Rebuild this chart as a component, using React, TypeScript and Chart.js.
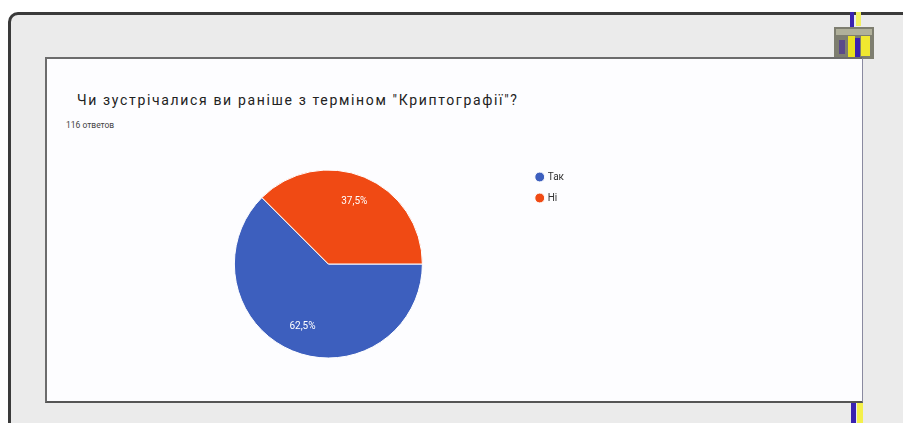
import React, { useEffect, useRef } from "react";
import { Chart, registerables } from "chart.js";

Chart.register(...registerables);

const titleText = "Чи зустрічалися ви раніше з терміном \"Криптографії\"?";
const subtitleText = "116 ответов";
const categories = ["Так", "Ні"];
const sliceValues = [62.5, 37.5];
const sliceColors = ["#3d5fbe", "#f04a14"];

const sliceLabelPlugin = {
  id: "sliceLabels",
  afterDatasetsDraw(chart: any) {
    const meta = chart.getDatasetMeta(0);
    const ds = chart.data.datasets[0];
    const total = (ds.data as number[]).reduce((a, b) => a + b, 0);
    const ctx = chart.ctx;
    ctx.save();
    ctx.fillStyle = "#ffffff";
    ctx.font = "10px Roboto, 'Liberation Sans', sans-serif";
    ctx.textAlign = "center";
    ctx.textBaseline = "middle";
    meta.data.forEach((arc: any, i: number) => {
      const p = arc.getProps(["x", "y", "startAngle", "endAngle", "outerRadius"], true);
      const mid = (p.startAngle + p.endAngle) / 2;
      const r = p.outerRadius * 0.72;
      const pct = ((ds.data[i] as number) / total) * 100;
      const txt = pct.toFixed(1).replace(".", ",") + "%";
      ctx.fillText(txt, p.x + Math.cos(mid) * r, p.y + Math.sin(mid) * r);
    });
    ctx.restore();
  },
};

function PieChart() {
  const ref = useRef<HTMLCanvasElement | null>(null);
  useEffect(() => {
    if (!ref.current) return;
    const chart = new Chart(ref.current, {
      type: "pie",
      data: {
        labels: categories,
        datasets: [
          {
            data: sliceValues,
            backgroundColor: sliceColors,
            borderColor: "#ffffff",
            borderWidth: 1,
            radius: 94,
          },
        ],
      },
      options: {
        animation: false,
        responsive: false,
        rotation: 90,
        layout: { padding: { left: 71, top: 0, right: 0, bottom: 0 } },
        plugins: {
          tooltip: { enabled: false },
          legend: {
            position: "right",
            align: "start",
            labels: {
              usePointStyle: true,
              pointStyle: "circle",
              boxWidth: 6,
              boxHeight: 7,
              padding: 11,
              color: "#333333",
              font: { size: 10, family: "Roboto, 'Liberation Sans', sans-serif" },
            },
          },
        },
      },
      plugins: [sliceLabelPlugin],
    });
    return () => chart.destroy();
  }, []);
  return (
    <canvas
      ref={ref}
      width={514}
      height={206}
      style={{ position: "absolute", left: 60, top: 161, width: 514, height: 206 }}
    />
  );
}

export default function App() {
  return (
    <div
      style={{
        position: "fixed",
        left: 0,
        top: 0,
        width: 903,
        height: 423,
        overflow: "hidden",
        background: "#ffffff",
        fontFamily: "Roboto, 'Liberation Sans', sans-serif",
      }}
    >
      {/* outer slide frame */}
      <div
        style={{
          position: "absolute",
          left: 8,
          top: 12,
          width: 1000,
          height: 520,
          boxSizing: "border-box",
          border: "3px solid #3a3a3a",
          borderRadius: 10,
          background: "#ebebeb",
        }}
      />
      {/* blue / yellow stripes */}
      <div style={{ position: "absolute", left: 850, top: 12, width: 4, height: 16, background: "#3a22b0" }} />
      <div style={{ position: "absolute", left: 856, top: 12, width: 5, height: 14, background: "#f2f060" }} />
      <div style={{ position: "absolute", left: 851, top: 403, width: 5, height: 20, background: "#3a22b0" }} />
      <div style={{ position: "absolute", left: 857, top: 403, width: 6, height: 20, background: "#f4f04a" }} />
      {/* logo */}
      <div style={{ position: "absolute", left: 834, top: 27, width: 40, height: 32, background: "#7e7e70" }} />
      <div style={{ position: "absolute", left: 836, top: 29, width: 36, height: 6, background: "#b0b09a" }} />
      <div style={{ position: "absolute", left: 848, top: 36, width: 7, height: 22, background: "#e8e020" }} />
      <div style={{ position: "absolute", left: 861, top: 36, width: 9, height: 20, background: "#f0e830" }} />
      <div style={{ position: "absolute", left: 855, top: 38, width: 5, height: 24, background: "#3a22b0" }} />
      <div style={{ position: "absolute", left: 839, top: 40, width: 6, height: 14, background: "#5a4a8a" }} />
      {/* inner card */}
      <div
        style={{
          position: "absolute",
          left: 45,
          top: 57,
          width: 818,
          height: 346,
          boxSizing: "border-box",
          background: "#fdfdff",
          borderLeft: "2px solid #6c6c6c",
          borderTop: "2px solid #6c6c6c",
          borderBottom: "2px solid #555555",
          borderRight: "1px solid #8a8aa0",
        }}
      />
      <div
        style={{
          position: "absolute",
          left: 77,
          top: 92,
          fontSize: 14,
          lineHeight: "16px",
          letterSpacing: "1.65px",
          color: "#222222",
          whiteSpace: "nowrap",
        }}
      >
        {titleText}
      </div>
      <div
        style={{
          position: "absolute",
          left: 66,
          top: 120,
          fontSize: 8.5,
          lineHeight: "11px",
          color: "#444444",
          whiteSpace: "nowrap",
        }}
      >
        {subtitleText}
      </div>
      <PieChart />
    </div>
  );
}
